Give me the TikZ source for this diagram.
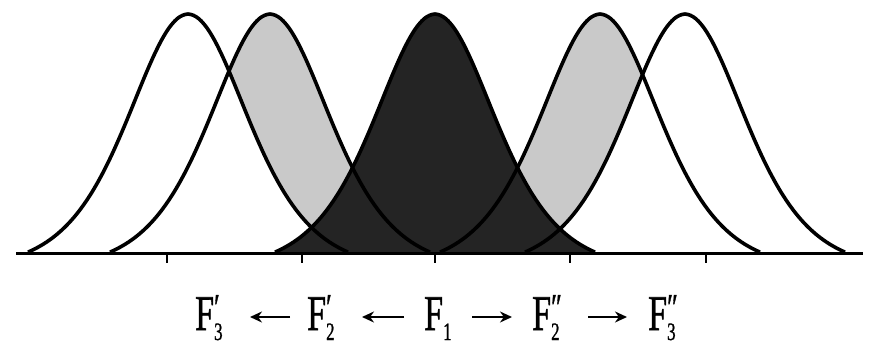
\documentclass[tikz,border=0pt]{standalone}
\usepackage{fontspec}
\usepackage{graphicx}
\setmainfont{Liberation Serif}
\newfontfamily\labfont[FakeBold=1.2]{Liberation Serif}
\usetikzlibrary{arrows.meta,calc}
\definecolor{lightfill}{gray}{0.79}
\definecolor{darkfill}{gray}{0.14}
% bell curve centred at #1, from #2 to #3 (pt units, y downward)
\newcommand\bellplot[3]{plot[domain=#2:#3,samples=121,smooth] (\x,{253-239*(((1/cosh((\x-#1)/80))^2)-0.0673)/0.9327})}
\newcommand\Flab[2]{\scalebox{0.68}[1]{F\rlap{\raisebox{10pt}{\fontsize{38}{38}\selectfont #2}}\raisebox{-10pt}{\fontsize{25}{25}\selectfont #1}}}
\tikzset{
  curve/.style={line width=3.6pt,line join=round},
  axisline/.style={line width=3pt},
  tickline/.style={line width=2.2pt},
  lab/.style={inner sep=0pt,anchor=base west,font=\labfont\fontsize{50}{60}\selectfont},
  arr/.style={line width=2pt,-{Stealth[length=12pt,width=11pt]}}
}
\begin{document}
\begin{tikzpicture}[x=1pt,y=-1pt]
\useasboundingbox (0,0) rectangle (873,345);
% fills
\fill[lightfill] \bellplot{270}{110}{430} -- cycle;
\fill[lightfill] \bellplot{600}{440}{760} -- cycle;
\fill[white] \bellplot{188}{28}{348} -- cycle;
\fill[white] \bellplot{685}{525}{845} -- cycle;
\fill[darkfill] \bellplot{435}{275}{595} -- cycle;
% outlines
\draw[curve] \bellplot{188}{28}{348};
\draw[curve] \bellplot{270}{110}{430};
\draw[curve] \bellplot{435}{275}{595};
\draw[curve] \bellplot{600}{440}{760};
\draw[curve] \bellplot{685}{525}{845};
% axis
\coordinate (axl) at (16,253);
\coordinate (axr) at (863,253);
\draw[axisline] (axl) -- (axr);
\foreach \t in {167,302,435,570,706}{
  \coordinate (tk) at (\t,253);
  \draw[tickline] (tk) -- ++(0,10);
}
% labels
\node[lab] (f3l) at (195,330) {\Flab{3}{′}};
\node[lab] (f2l) at (307,330) {\Flab{2}{′}};
\node[lab] (f1)  at (424,330) {\Flab{1}{}};
\node[lab] (f2r) at (532,330) {\Flab{2}{″}};
\node[lab] (f3r) at (648,330) {\Flab{3}{″}};
\draw[arr] ($(f2l.base west)+(-17,-13)$) -- ($(f3l.base west)+(55,-13)$);
\draw[arr] ($(f1.base west)+(-20,-13)$) -- ($(f2l.base west)+(55,-13)$);
\draw[arr] ($(f1.base west)+(48,-13)$) -- ($(f2r.base west)+(-20,-13)$);
\draw[arr] ($(f2r.base west)+(56,-13)$) -- ($(f3r.base west)+(-21,-13)$);
\end{tikzpicture}
\end{document}
